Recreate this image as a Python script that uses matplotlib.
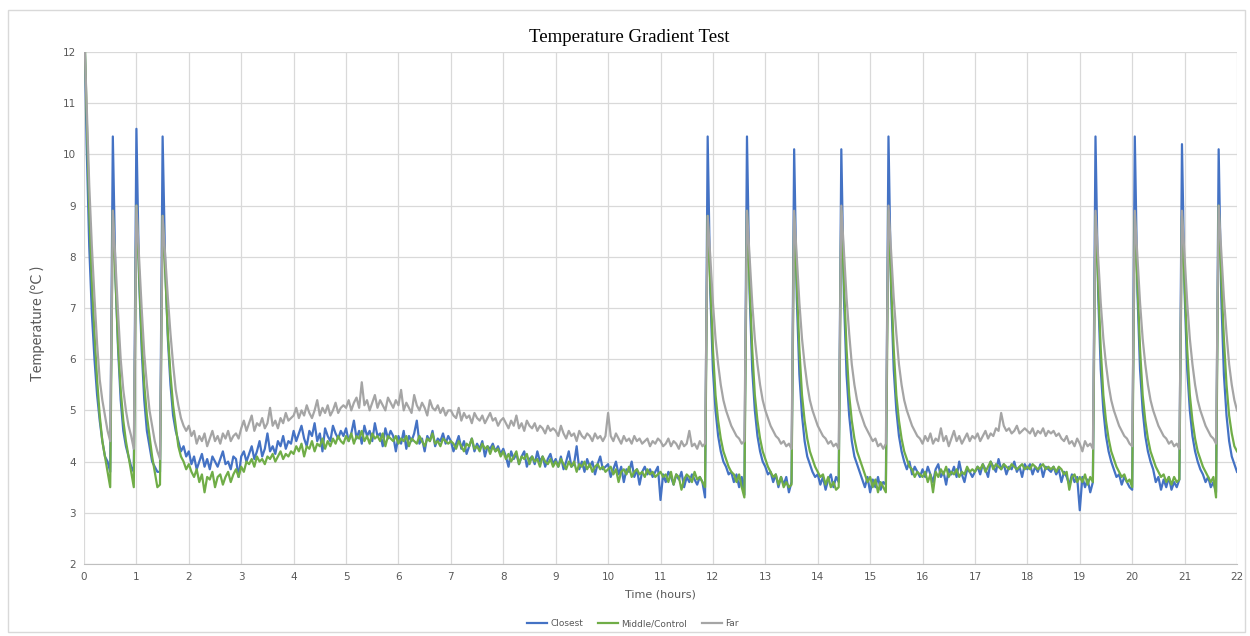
import numpy as np
import matplotlib
matplotlib.use("Agg")
import matplotlib.pyplot as plt
from matplotlib.patches import Rectangle

# readings every 3 minutes (0.05 h), one row per hour
step_hours = 0.05

closest = [
    13.0, 10.2, 8.2, 6.9, 6.0, 5.3, 4.8, 4.4, 4.1, 4.0, 3.8, 10.35, 7.6, 6.2, 5.2, 4.6, 4.3, 4.1, 3.9, 3.8,
    10.5, 7.6, 6.2, 5.2, 4.6, 4.3, 4.0, 3.9, 3.8, 3.8, 10.35, 7.8, 6.4, 5.5, 4.9, 4.6, 4.4, 4.2, 4.3, 4.1,
    4.2, 3.95, 4.1, 3.85, 4.0, 4.15, 3.9, 4.05, 3.85, 4.1, 4.0, 3.9, 4.05, 4.2, 3.95, 4.0, 3.85, 4.1, 4.05, 3.7,
    4.1, 4.2, 4.0, 4.15, 4.3, 4.05, 4.2, 4.4, 4.1, 4.25, 4.55, 4.2, 4.3, 4.15, 4.4, 4.3, 4.5, 4.25, 4.4, 4.35,
    4.6, 4.4, 4.55, 4.7, 4.45, 4.3, 4.6, 4.5, 4.75, 4.4, 4.55, 4.2, 4.65, 4.5, 4.4, 4.7, 4.55, 4.45, 4.6, 4.5,
    4.65, 4.4, 4.55, 4.8, 4.45, 4.6, 4.35, 4.7, 4.5, 4.6, 4.4, 4.75, 4.5, 4.55, 4.3, 4.65, 4.45, 4.6, 4.5, 4.2,
    4.5, 4.35, 4.6, 4.25, 4.5, 4.4, 4.55, 4.8, 4.35, 4.45, 4.2, 4.5, 4.4, 4.6, 4.3, 4.45, 4.4, 4.55, 4.35, 4.5,
    4.4, 4.2, 4.35, 4.5, 4.25, 4.4, 4.15, 4.3, 4.45, 4.2, 4.35, 4.25, 4.4, 4.1, 4.3, 4.25, 4.35, 4.2, 4.3, 4.15,
    4.25, 4.1, 3.9, 4.2, 4.05, 4.15, 3.95, 4.1, 4.2, 3.9, 4.05, 4.1, 3.95, 4.2, 4.0, 4.1, 3.9, 4.05, 4.15, 3.95,
    4.05, 3.9, 4.1, 3.85, 4.0, 4.2, 3.9, 3.95, 4.3, 3.85, 4.0, 3.8, 4.05, 3.9, 4.0, 3.75, 3.95, 4.1, 3.85, 3.9,
    3.95, 3.7, 3.85, 4.0, 3.75, 3.9, 3.6, 3.85, 3.8, 4.0, 3.7, 3.85, 3.55, 3.8, 3.9, 3.75, 3.85, 3.7, 3.8, 3.9,
    3.25, 3.75, 3.6, 3.8, 3.7, 3.55, 3.75, 3.65, 3.8, 3.5, 3.7, 3.6, 3.75, 3.65, 3.55, 3.7, 3.6, 3.3, 10.35, 7.3,
    5.8, 5.0, 4.5, 4.2, 4.0, 3.9, 3.75, 3.8, 3.6, 3.75, 3.5, 3.7, 3.35, 10.35, 7.3, 5.8, 5.0, 4.5, 4.2, 4.0,
    3.9, 3.75, 3.8, 3.6, 3.75, 3.5, 3.7, 3.55, 3.7, 3.4, 3.6, 10.1, 7.2, 5.7, 4.9, 4.4, 4.1, 3.95, 3.8, 3.7,
    3.75, 3.55, 3.7, 3.45, 3.65, 3.75, 3.5, 3.7, 3.6, 10.1, 7.2, 5.7, 4.9, 4.4, 4.1, 3.95, 3.8, 3.65, 3.5, 3.7,
    3.4, 3.65, 3.5, 3.7, 3.45, 3.6, 3.55, 10.35, 7.3, 5.8, 5.0, 4.5, 4.2, 4.0, 3.85, 4.0, 3.75, 3.9, 3.8, 3.7,
    3.85, 3.7, 3.9, 3.75, 3.6, 3.85, 3.95, 3.7, 3.8, 3.55, 3.85, 3.75, 3.9, 3.7, 4.0, 3.75, 3.6, 3.85, 3.8, 3.7,
    3.8, 3.9, 3.75, 3.95, 3.85, 3.7, 4.0, 3.9, 3.8, 4.05, 3.85, 3.95, 3.75, 3.9, 3.85, 4.0, 3.8, 3.9, 3.7, 3.95,
    3.85, 3.95, 3.75, 3.9, 3.8, 3.95, 3.7, 3.9, 3.85, 3.8, 3.9, 3.75, 3.85, 3.6, 3.8, 3.7, 3.55, 3.75, 3.6, 3.7,
    3.05, 3.7, 3.5, 3.65, 3.4, 3.6, 10.35, 7.3, 5.8, 5.0, 4.5, 4.2, 4.0, 3.85, 3.7, 3.75, 3.55, 3.7, 3.6, 3.5,
    3.45, 10.35, 7.3, 5.8, 5.0, 4.5, 4.2, 4.0, 3.85, 3.6, 3.7, 3.45, 3.65, 3.5, 3.7, 3.45, 3.6, 3.5, 3.65, 10.2,
    7.3, 5.8, 5.0, 4.5, 4.2, 4.0, 3.85, 3.75, 3.6, 3.7, 3.5, 3.6, 3.4, 10.1, 7.2, 5.7, 4.9, 4.4, 4.1, 3.95,
    3.8,
]

middle = [
    12.8, 10.8, 8.9, 7.5, 6.5, 5.6, 4.9, 4.4, 4.1, 3.8, 3.5, 8.9, 7.6, 6.3, 5.4, 4.8, 4.4, 4.1, 3.8, 3.5,
    9.0, 7.7, 6.4, 5.5, 4.9, 4.5, 4.1, 3.8, 3.5, 3.55, 8.8, 7.7, 6.5, 5.7, 5.1, 4.7, 4.3, 4.1, 4.0, 3.85,
    3.95, 3.8, 3.7, 3.85, 3.6, 3.75, 3.4, 3.7, 3.65, 3.8, 3.5, 3.7, 3.75, 3.55, 3.7, 3.8, 3.6, 3.75, 3.85, 3.7,
    3.9, 3.8, 4.0, 3.95, 4.05, 3.9, 4.1, 4.0, 4.05, 3.95, 4.1, 4.05, 4.15, 4.0, 4.1, 4.2, 4.05, 4.15, 4.1, 4.2,
    4.15, 4.3, 4.2, 4.35, 4.1, 4.3, 4.25, 4.4, 4.2, 4.35, 4.3, 4.45, 4.25, 4.4, 4.3, 4.45, 4.35, 4.5, 4.4, 4.35,
    4.5, 4.4, 4.55, 4.35, 4.5, 4.45, 4.6, 4.4, 4.5, 4.35, 4.55, 4.45, 4.5, 4.4, 4.55, 4.3, 4.5, 4.45, 4.4, 4.5,
    4.35, 4.45, 4.4, 4.5, 4.3, 4.45, 4.4, 4.35, 4.5, 4.4, 4.3, 4.45, 4.4, 4.55, 4.35, 4.4, 4.3, 4.45, 4.4, 4.35,
    4.4, 4.35, 4.25, 4.4, 4.3, 4.2, 4.35, 4.3, 4.45, 4.25, 4.3, 4.2, 4.35, 4.25, 4.3, 4.15, 4.3, 4.2, 4.25, 4.1,
    4.2, 4.05, 4.15, 4.0, 4.1, 4.2, 3.95, 4.1, 4.05, 4.15, 3.95, 4.1, 4.0, 4.05, 3.9, 4.1, 4.0, 3.95, 4.05, 3.9,
    4.0, 3.9, 4.05, 3.95, 3.85, 4.0, 3.9, 4.0, 3.8, 3.95, 3.9, 4.0, 3.85, 3.95, 3.8, 3.9, 3.95, 3.85, 3.9, 3.8,
    3.85, 3.9, 3.75, 3.85, 3.6, 3.8, 3.85, 3.75, 3.9, 3.7, 3.8, 3.85, 3.75, 3.8, 3.7, 3.85, 3.75, 3.8, 3.7, 3.75,
    3.8, 3.7, 3.75, 3.6, 3.8, 3.55, 3.75, 3.7, 3.45, 3.65, 3.75, 3.7, 3.6, 3.8, 3.65, 3.7, 3.6, 3.5, 8.8, 7.5,
    6.2, 5.3, 4.8, 4.45, 4.2, 4.05, 3.9, 3.8, 3.75, 3.6, 3.75, 3.5, 3.3, 8.9, 7.5, 6.2, 5.3, 4.8, 4.45, 4.2,
    4.05, 3.9, 3.8, 3.7, 3.75, 3.55, 3.7, 3.5, 3.6, 3.5, 3.55, 8.8, 7.5, 6.2, 5.3, 4.8, 4.45, 4.2, 4.05, 3.9,
    3.8, 3.7, 3.75, 3.55, 3.7, 3.5, 3.6, 3.45, 3.5, 8.9, 7.5, 6.2, 5.3, 4.8, 4.45, 4.2, 4.05, 3.9, 3.75, 3.6,
    3.7, 3.5, 3.65, 3.4, 3.6, 3.5, 3.4, 8.9, 7.5, 6.2, 5.3, 4.8, 4.45, 4.2, 4.05, 3.9, 3.85, 3.7, 3.8, 3.75,
    3.7, 3.8, 3.6, 3.75, 3.4, 3.8, 3.7, 3.85, 3.75, 3.9, 3.7, 3.8, 3.75, 3.85, 3.7, 3.8, 3.75, 3.9, 3.8, 3.85,
    3.8, 3.9, 3.85, 3.95, 3.8, 3.9, 4.0, 3.85, 3.95, 3.9, 3.85, 3.95, 3.9, 3.85, 3.95, 3.9, 3.85, 3.9, 3.95, 3.85,
    3.9, 3.85, 3.95, 3.9, 3.85, 3.9, 3.95, 3.85, 3.9, 3.85, 3.9, 3.8, 3.9, 3.85, 3.75, 3.8, 3.45, 3.7, 3.75, 3.6,
    3.7, 3.6, 3.75, 3.55, 3.7, 3.6, 8.8, 7.5, 6.2, 5.3, 4.8, 4.45, 4.2, 4.05, 3.9, 3.8, 3.7, 3.75, 3.6, 3.65,
    3.5, 8.8, 7.5, 6.2, 5.3, 4.8, 4.45, 4.2, 4.05, 3.9, 3.8, 3.7, 3.75, 3.6, 3.7, 3.55, 3.7, 3.6, 3.65, 8.8,
    7.5, 6.2, 5.3, 4.8, 4.45, 4.2, 4.05, 3.9, 3.8, 3.7, 3.6, 3.7, 3.3, 9.0, 7.6, 6.4, 5.5, 4.9, 4.55, 4.3,
    4.2,
]

far = [
    12.5, 11.0, 9.4, 8.2, 7.2, 6.3, 5.6, 5.2, 4.9, 4.6, 4.4, 8.9, 7.9, 6.9, 6.0, 5.4, 5.0, 4.7, 4.5, 4.25,
    9.0, 8.0, 7.0, 6.1, 5.5, 5.0, 4.7, 4.4, 4.2, 4.05, 8.8, 8.0, 7.2, 6.5, 5.9, 5.4, 5.1, 4.85, 4.7, 4.6,
    4.7, 4.5, 4.6, 4.35, 4.5, 4.4, 4.55, 4.3, 4.45, 4.6, 4.4, 4.5, 4.35, 4.55, 4.45, 4.6, 4.4, 4.5, 4.55, 4.45,
    4.65, 4.8, 4.6, 4.75, 4.9, 4.6, 4.75, 4.7, 4.85, 4.65, 4.75, 5.05, 4.7, 4.8, 4.65, 4.85, 4.75, 4.95, 4.8, 4.85,
    4.9, 5.05, 4.85, 5.0, 4.9, 5.1, 4.95, 4.85, 5.0, 5.2, 4.9, 5.05, 4.95, 5.1, 4.9, 5.0, 5.15, 4.95, 5.05, 5.1,
    5.05, 5.2, 5.0, 5.15, 5.25, 5.05, 5.55, 5.1, 5.2, 5.0, 5.15, 5.3, 5.05, 5.2, 5.1, 5.0, 5.25, 5.15, 5.05, 5.2,
    5.1, 5.4, 5.0, 5.15, 5.05, 4.95, 5.3, 5.1, 5.0, 5.15, 5.05, 4.9, 5.2, 5.05, 5.0, 5.1, 4.95, 5.05, 4.9, 5.0,
    5.0, 4.9, 4.85, 5.05, 4.8, 4.95, 4.85, 4.9, 4.75, 4.95, 4.85, 4.8, 4.9, 4.75, 4.85, 4.95, 4.8, 4.85, 4.7, 4.8,
    4.85, 4.75, 4.65, 4.8, 4.7, 4.9, 4.65, 4.75, 4.6, 4.8, 4.7, 4.65, 4.75, 4.6, 4.7, 4.65, 4.55, 4.7, 4.6, 4.65,
    4.6, 4.5, 4.7, 4.55, 4.45, 4.6, 4.5, 4.55, 4.4, 4.6, 4.5, 4.45, 4.55, 4.5, 4.4, 4.55, 4.45, 4.5, 4.4, 4.5,
    4.95, 4.5, 4.4, 4.55, 4.45, 4.35, 4.5, 4.4, 4.45, 4.35, 4.5, 4.4, 4.45, 4.35, 4.4, 4.45, 4.3, 4.4, 4.35, 4.45,
    4.4, 4.3, 4.35, 4.45, 4.3, 4.4, 4.35, 4.25, 4.4, 4.3, 4.35, 4.6, 4.3, 4.35, 4.25, 4.4, 4.3, 4.35, 8.8, 8.0,
    7.1, 6.4, 5.9, 5.5, 5.2, 5.0, 4.85, 4.7, 4.6, 4.5, 4.45, 4.35, 4.4, 8.9, 8.0, 7.1, 6.4, 5.9, 5.5, 5.2,
    5.0, 4.85, 4.7, 4.6, 4.5, 4.45, 4.35, 4.4, 4.3, 4.35, 4.25, 8.9, 8.0, 7.1, 6.4, 5.9, 5.5, 5.2, 5.0, 4.85,
    4.7, 4.6, 4.5, 4.45, 4.35, 4.4, 4.3, 4.35, 4.25, 9.0, 8.1, 7.2, 6.5, 5.9, 5.5, 5.2, 5.0, 4.85, 4.7, 4.6,
    4.5, 4.4, 4.45, 4.3, 4.35, 4.25, 4.35, 9.0, 8.1, 7.2, 6.5, 5.9, 5.5, 5.2, 5.0, 4.85, 4.7, 4.6, 4.5, 4.45,
    4.35, 4.5, 4.4, 4.55, 4.35, 4.45, 4.4, 4.65, 4.4, 4.5, 4.3, 4.45, 4.6, 4.4, 4.5, 4.35, 4.45, 4.55, 4.4, 4.5,
    4.45, 4.55, 4.4, 4.5, 4.6, 4.45, 4.55, 4.5, 4.65, 4.6, 4.95, 4.7, 4.6, 4.65, 4.55, 4.6, 4.7, 4.55, 4.6, 4.65,
    4.6, 4.55, 4.65, 4.5, 4.6, 4.55, 4.65, 4.5, 4.6, 4.55, 4.6, 4.5, 4.55, 4.45, 4.4, 4.5, 4.35, 4.4, 4.3, 4.45,
    4.35, 4.2, 4.4, 4.3, 4.35, 4.25, 8.9, 8.0, 7.1, 6.4, 5.9, 5.5, 5.2, 5.0, 4.85, 4.7, 4.6, 4.5, 4.45, 4.35,
    4.3, 8.9, 8.0, 7.1, 6.4, 5.9, 5.5, 5.2, 5.0, 4.85, 4.7, 4.6, 4.5, 4.45, 4.35, 4.4, 4.3, 4.35, 4.25, 8.9,
    8.0, 7.1, 6.4, 5.9, 5.5, 5.2, 5.0, 4.85, 4.7, 4.6, 4.5, 4.45, 4.35, 9.0, 8.1, 7.2, 6.5, 5.9, 5.5, 5.2,
    5.0,
]

series_names = ["Closest", "Middle/Control", "Far"]
series_colors = ["#4472C4", "#70AD47", "#A5A5A5"]

hours = np.arange(len(closest)) * step_hours

fig = plt.figure(figsize=(12.5, 6.36), dpi=100)
fig.patches.append(Rectangle((8 / 1250, 4 / 636), 1237 / 1250, 622 / 636, transform=fig.transFigure,
                             fill=False, edgecolor="#d9d9d9", linewidth=1))

ax = fig.add_axes([84 / 1250, 72 / 636, 1153 / 1250, 512 / 636])

for values, name, color in zip([closest, middle, far], series_names, series_colors):
    ax.plot(hours, values, color=color, linewidth=1.6, label=name)

ax.set_xlim(0, 22)
ax.set_ylim(2, 12)
ax.set_xticks(np.arange(0, 23, 1))
ax.set_yticks(np.arange(2, 13, 1))
ax.grid(True, color="#d9d9d9", linewidth=0.9)
ax.set_axisbelow(True)
for side in ["top", "right", "left"]:
    ax.spines[side].set_visible(False)
ax.spines["bottom"].set_color("#bfbfbf")
ax.tick_params(length=0, labelsize=7.5, colors="#595959", pad=6)

fig.text(629 / 1250, 1 - 37 / 636, "Temperature Gradient Test", family="Liberation Serif",
         fontsize=13.5, ha="center", va="center")
ax.set_xlabel("Time (hours)", fontsize=8, color="#595959", labelpad=5)
fig.text(37 / 1250, 1 - 324 / 636, "Temperature (°C )", family="Lato", fontsize=10.5,
         color="#595959", rotation=90, ha="center", va="center")

ax.legend(loc="center", bbox_to_anchor=(633 / 1250, 1 - 624 / 636), bbox_transform=fig.transFigure,
          ncol=3, frameon=False, fontsize=6.5, labelcolor="#595959", handlelength=2.2,
          handletextpad=0.4, columnspacing=1.6)

fig.savefig("out.png", dpi=100)
